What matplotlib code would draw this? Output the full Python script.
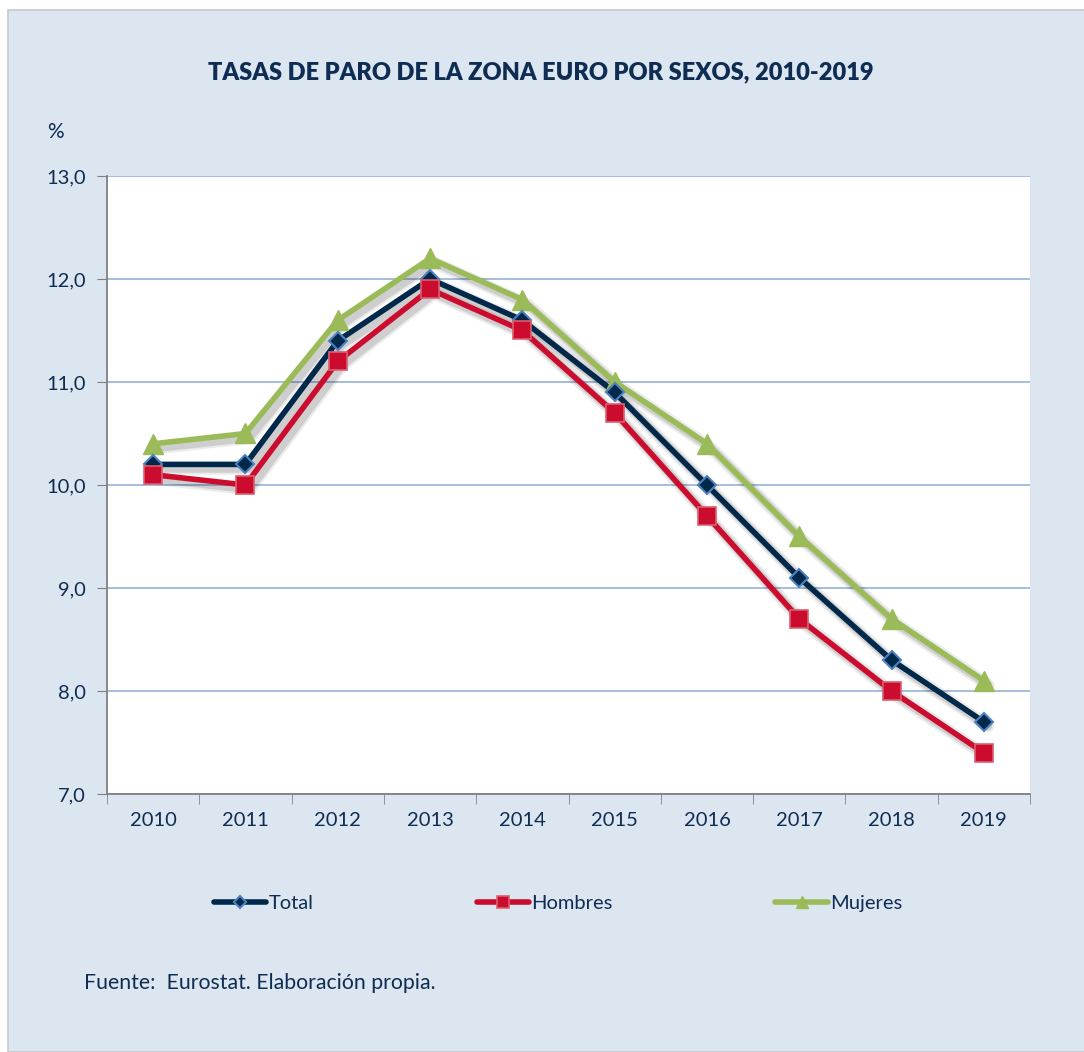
import numpy as np
import matplotlib.pyplot as plt
import matplotlib.patheffects as pe
from matplotlib.patches import Rectangle
from matplotlib.lines import Line2D

#%% data
years = ["2010", "2011", "2012", "2013", "2014", "2015", "2016", "2017", "2018", "2019"]
total = [10.2, 10.2, 11.4, 12.0, 11.6, 10.9, 10.0, 9.1, 8.3, 7.7]
hombres = [10.1, 10.0, 11.2, 11.9, 11.5, 10.7, 9.7, 8.7, 8.0, 7.4]
mujeres = [10.4, 10.5, 11.6, 12.2, 11.8, 11.0, 10.4, 9.5, 8.7, 8.1]
yticks = [7, 8, 9, 10, 11, 12, 13]

plt.rcParams['font.family'] = ['Lato', 'DejaVu Sans']
navy = "#0F2D52"
panel = "#DCE6F1"

W, H = 1084, 1052
fig = plt.figure(figsize=(W / 100, H / 100), dpi=100, facecolor="white")

# light blue panel behind everything
fig.patches.append(Rectangle((8 / W, 0.0), 1.0, 1 - 10 / H, transform=fig.transFigure,
                             facecolor=panel, edgecolor="#C8C8C8", linewidth=1.2, zorder=-1))

ax = fig.add_axes([107 / W, 1 - 794 / H, (1030 - 107) / W, (794 - 176) / H])
ax.set_facecolor("white")

x = np.arange(len(years))
# soft drop shadow under the lines
shadow = [pe.SimpleLineShadow(offset=(3, -3), shadow_color="black", alpha=0.08, linewidth=9),
          pe.SimpleLineShadow(offset=(3, -3), shadow_color="black", alpha=0.12, linewidth=6),
          pe.Normal()]

series = [
    ("Mujeres", mujeres, "#9BBB59", dict(marker="^", markersize=14, markerfacecolor="#9BBB59",
                                          markeredgecolor="#9BBB59")),
    ("Total", total, "#00284A", dict(marker="D", markersize=9.5, markerfacecolor="#00284A",
                                      markeredgecolor="#4F81BD", markeredgewidth=1.5)),
    ("Hombres", hombres, "#CC0C2F", dict(marker="s", markersize=13, markerfacecolor="#CC0C2F",
                                          markeredgecolor="#D9606F", markeredgewidth=1.2)),
]

handles = {}
for i, (name, vals, col, mk) in enumerate(series):
    ax.plot(x, vals, color=col, lw=4, solid_capstyle="round", path_effects=shadow, zorder=3 + i)
    ax.plot(x, vals, ls="none", zorder=6 + i, **mk)
    small = dict(mk)
    small["markersize"] = mk["markersize"] * 0.65
    handles[name] = Line2D([], [], color=col, lw=4, solid_capstyle="round", **small)

ax.set_xlim(-0.5, len(years) - 0.5)
ax.set_ylim(7, 13)
ax.set_yticks(yticks)
ax.set_yticklabels([f"{v:.1f}".replace(".", ",") for v in yticks])
ax.set_xticks(x)
ax.set_xticklabels(years)
ax.set_xticks(np.arange(-0.5, len(years)), minor=True)
ax.tick_params(axis="x", which="major", length=0, pad=13, labelsize=14.5, labelcolor=navy)
ax.tick_params(axis="x", which="minor", length=7, color="#808080", direction="out")
ax.tick_params(axis="y", length=7, color="#808080", pad=8, labelsize=14.5, labelcolor=navy)

ax.grid(axis="y", color="#95B3D7", lw=1.2)
ax.set_axisbelow(True)
for s in ["top", "right"]:
    ax.spines[s].set_visible(False)
for s in ["left", "bottom"]:
    ax.spines[s].set_color("#808080")
    ax.spines[s].set_linewidth(1.3)

fig.text(541 / W, 1 - 72 / H, "TASAS DE PARO DE LA ZONA EURO POR SEXOS, 2010-2019",
         ha="center", va="center", fontsize=17, fontweight="heavy", color=navy)
fig.text(47 / W, 1 - 132 / H, "%", ha="left", va="center", fontsize=15, color=navy)
fig.text(84 / W, 1 - 983 / H, "Fuente:  Eurostat. Elaboración propia.",
         ha="left", va="center", fontsize=15.3, color=navy)

names = ["Total", "Hombres", "Mujeres"]
leg = fig.legend([handles[n] for n in names], names, loc="center",
                 bbox_to_anchor=(558 / W, 1 - 903 / H), ncol=3, frameon=False,
                 fontsize=14.5, handlelength=2.6, handletextpad=0.1, columnspacing=8.1,
                 labelcolor=navy)

fig.savefig("out.png", dpi=100, facecolor=fig.get_facecolor())
